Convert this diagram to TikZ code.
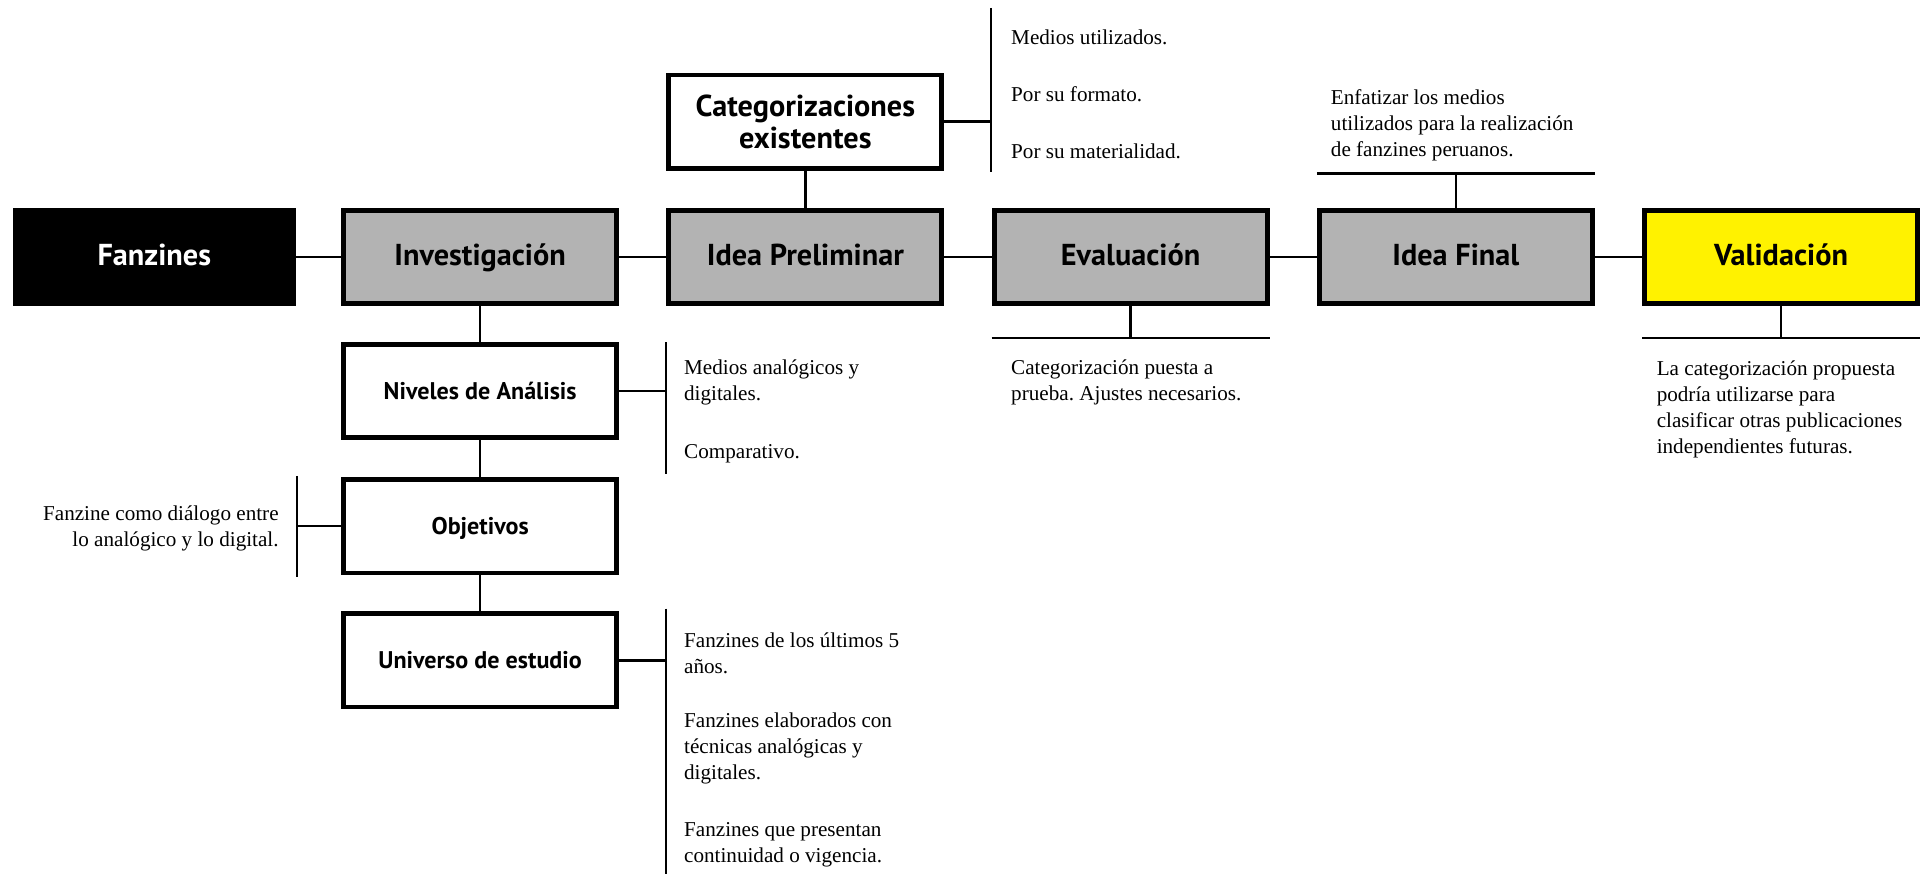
\documentclass[tikz,border=0pt]{standalone}
\usepackage{fontspec}
\setmainfont{Liberation Serif}
\newfontfamily\labelfont{PT Sans}
\usetikzlibrary{positioning}
\frenchspacing

\definecolor{stagegray}{HTML}{B3B3B3}

\begin{document}
\begin{tikzpicture}[
    x=0.5pt, y=-0.5pt,
    every node/.style={inner sep=0pt},
    stage/.style={rectangle, draw, line width=2pt, minimum width=111pt, minimum height=38pt, align=center,
                  font=\labelfont\bfseries\fontsize{12.3}{13.2}\selectfont},
    oneline/.style={text height=0.7em, text depth=0pt},
    mainbox/.style={stage, oneline, fill=stagegray},
    sub/.style={stage, oneline, fill=white, font=\labelfont\bfseries\fontsize{9.8}{11}\selectfont},
    note/.style={align=left, font=\fontsize{8.6}{10.6}\selectfont},
    link/.style={line width=1pt}
]
\useasboundingbox (0,0) rectangle (1568,710.8);

% main row
\node[stage, oneline, fill=black, text=white, minimum width=113pt] (fanzines) at (125.5,209) {Fanzines};
\node[mainbox, right=18.5pt of fanzines] (investigacion) {Investigación};
\node[mainbox, right=19.25pt of investigacion] (preliminar) {Idea Preliminar};
\node[mainbox, right=19.25pt of preliminar] (evaluacion) {Evaluación};
\node[mainbox, right=19.25pt of evaluacion] (final) {Idea Final};
\node[stage, oneline, fill=yellow, right=19.25pt of final] (validacion) {Validación};

% upper box
\node[stage, fill=white, above=15pt of preliminar] (categorias) {Categorizaciones\\existentes};

% investigation column
\node[sub, below=14.5pt of investigacion] (niveles) {Niveles de Análisis};
\node[sub, below=15pt of niveles] (objetivos) {Objetivos};
\node[sub, below=14.5pt of objetivos] (universo) {Universo de estudio};

% bracket points
\coordinate[right=19pt of categorias] (cat_br);
\coordinate[above=46.25pt of cat_br] (cat_top);
\coordinate[below=20.25pt of cat_br] (cat_bot);
\coordinate[above=14pt of final] (final_br);
\coordinate (final_l) at (final.west |- final_br);
\coordinate (final_r) at (final.east |- final_br);
\coordinate[below=13pt of evaluacion] (eval_br);
\coordinate (eval_l) at (evaluacion.west |- eval_br);
\coordinate (eval_r) at (evaluacion.east |- eval_br);
\coordinate[below=13pt of validacion] (valid_br);
\coordinate (valid_l) at (validacion.west |- valid_br);
\coordinate (valid_r) at (validacion.east |- valid_br);
\coordinate[right=19pt of niveles] (niv_br);
\coordinate[above=19.75pt of niv_br] (niv_top);
\coordinate[below=33.75pt of niv_br] (niv_bot);
\coordinate[left=18pt of objetivos] (obj_br);
\coordinate[above=20.5pt of obj_br] (obj_top);
\coordinate[below=20.5pt of obj_br] (obj_bot);
\coordinate[right=19pt of universo] (uni_br);
\coordinate[above=21pt of uni_br] (uni_top);
\coordinate[below=87.5pt of uni_br] (uni_bot);

% notes
\node[note, anchor=west] (cat_n1) at (822,30) {Medios utilizados.};
\node[note, anchor=west] (cat_n2) at (822,77) {Por su formato.};
\node[note, anchor=west] (cat_n3) at (822,123) {Por su materialidad.};
\node[note, anchor=west] (final_n) at (1082,102) {Enfatizar los medios\\utilizados para la realización\\de fanzines peruanos.};
\node[note, anchor=west] (eval_n) at (822,311) {Categorización puesta a\\prueba. Ajustes necesarios.};
\node[note, anchor=west] (valid_n) at (1347,333) {La categorización propuesta\\podría utilizarse para\\clasificar otras publicaciones\\independientes futuras.};
\node[note, anchor=west] (niv_n1) at (556,311) {Medios analógicos y\\digitales.};
\node[note, anchor=west] (niv_n2) at (556,369) {Comparativo.};
\node[note, anchor=east, align=right] (obj_n) at (227,430) {Fanzine como diálogo entre\\lo analógico y lo digital.};
\node[note, anchor=west] (uni_n1) at (556,531) {Fanzines de los últimos 5\\años.};
\node[note, anchor=west] (uni_n2) at (556,609) {Fanzines elaborados con\\técnicas analógicas y\\digitales.};
\node[note, anchor=west] (uni_n3) at (556,687) {Fanzines que presentan\\continuidad o vigencia.};

% main edges
\draw[link] (fanzines) -- (investigacion) -- (preliminar) -- (evaluacion) -- (final) -- (validacion);
\draw[link] (investigacion) -- (niveles) -- (objetivos) -- (universo);
\draw[link] (categorias) -- (preliminar);

% bracket edges
\draw[link] (categorias) -- (cat_br);
\draw[link] (cat_top) -- (cat_bot);
\draw[link] (final) -- (final_br);
\draw[link] (final_l) -- (final_r);
\draw[link] (evaluacion) -- (eval_br);
\draw[link] (eval_l) -- (eval_r);
\draw[link] (validacion) -- (valid_br);
\draw[link] (valid_l) -- (valid_r);
\draw[link] (niveles) -- (niv_br);
\draw[link] (niv_top) -- (niv_bot);
\draw[link] (objetivos) -- (obj_br);
\draw[link] (obj_top) -- (obj_bot);
\draw[link] (universo) -- (uni_br);
\draw[link] (uni_top) -- (uni_bot);

\end{tikzpicture}
\end{document}
